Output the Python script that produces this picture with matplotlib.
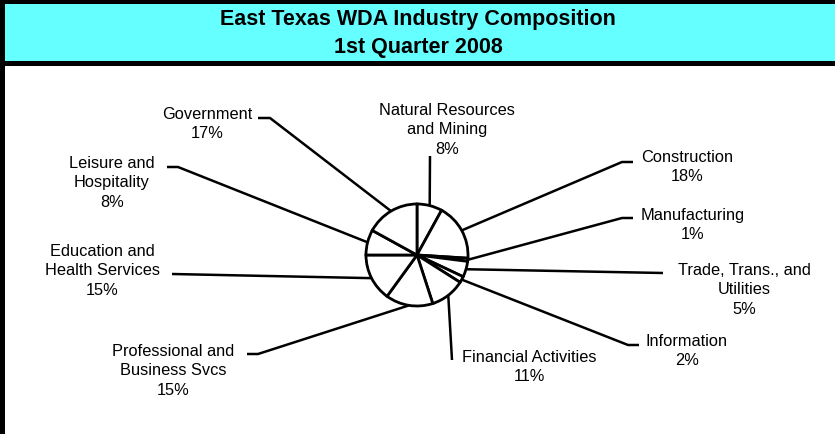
import matplotlib
matplotlib.use("Agg")
import matplotlib.pyplot as plt
from matplotlib.patches import Rectangle
import numpy as np

W, H = 835, 435

sectors = ["Natural Resources\nand Mining", "Construction", "Manufacturing",
           "Trade, Trans., and\nUtilities", "Information", "Financial Activities",
           "Professional and\nBusiness Svcs", "Education and\nHealth Services",
           "Leisure and\nHospitality", "Government"]
shares = [8, 18, 1, 5, 2, 11, 15, 15, 8, 17]

title_lines = ["East Texas WDA Industry Composition", "1st Quarter 2008"]

# label block centres and leader-line ends (pixel coords, y down)
label_pos = [(447, 130), (687, 167), (693, 225), (744, 290), (687, 351),
             (529, 367), (173, 371), (102, 271), (112, 183), (207, 124)]
leader_pts = [[(430, 157)],
              [(622, 163), (633, 163)],
              [(622, 219), (633, 219)],
              [(663, 274)],
              [(628, 346), (639, 346)],
              [(452, 361)],
              [(258, 355), (247, 355)],
              [(172, 275)],
              [(178, 168), (167, 168)],
              [(270, 119), (258, 119)]]

plt.rcParams['font.family'] = ['Liberation Sans', 'DejaVu Sans']

fig = plt.figure(figsize=(W / 100, H / 100), dpi=100)
ax = fig.add_axes([0, 0, 1, 1])

cx, cy, r = 417, 256, 51
wedges, _ = ax.pie(shares, startangle=-90, counterclock=True, center=(cx, cy),
                   radius=r, wedgeprops=dict(facecolor='white', edgecolor='black',
                                             linewidth=2))
ax.set_xlim(0, W)
ax.set_ylim(H, 0)
ax.axis('off')

# frame and title band
ax.add_patch(Rectangle((0, 0), W, 67, facecolor='black', edgecolor='none', zorder=0))
ax.add_patch(Rectangle((5, 5), W, 57, facecolor='#66FFFF', edgecolor='none', zorder=1))
ax.add_patch(Rectangle((0, 0), 5, H, facecolor='black', edgecolor='none', zorder=1))
ax.text(418, 19, title_lines[0], ha='center', va='center', fontsize=15.5,
        fontweight='bold')
ax.text(418, 47, title_lines[1], ha='center', va='center', fontsize=15.5,
        fontweight='bold')

for w, name, share, pos, pts in zip(wedges, sectors, shares, label_pos, leader_pts):
    mid = np.deg2rad((w.theta1 + w.theta2) / 2)
    ex, ey = cx + r * np.cos(mid), cy + r * np.sin(mid)
    xs = [ex] + [p[0] for p in pts]
    ys = [ey] + [p[1] for p in pts]
    ax.plot(xs, ys, color='black', lw=1.8, solid_capstyle='butt', zorder=3)
    ax.text(pos[0], pos[1], f"{name}\n{share}%", ha='center', va='center',
            multialignment='center', fontsize=11.8, linespacing=1.36)

fig.savefig("out.png", dpi=100)
